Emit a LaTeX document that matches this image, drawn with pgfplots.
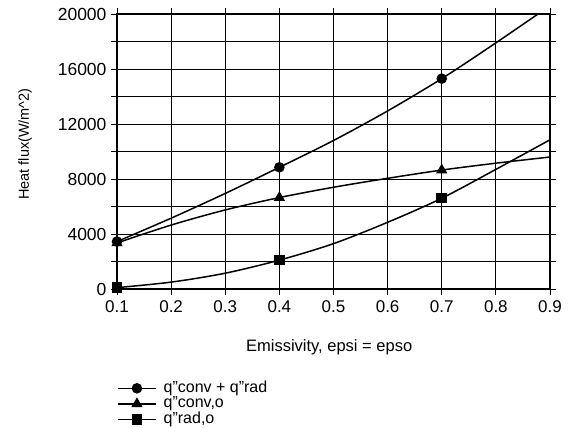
\documentclass[border=0pt]{standalone}
\usepackage{pgfplots}
\pgfplotsset{compat=1.18}
\usepackage{fontspec}
\setmainfont{Liberation Sans}
\begin{document}
\begin{tikzpicture}
\useasboundingbox (-117pt,-139pt) rectangle (451pt,289pt);
\begin{axis}[
  at={(0,0)}, anchor=south west,
  scale only axis, width=433pt, height=275pt,
  xmin=0.1, xmax=0.9, ymin=0, ymax=20000,
  xtick={0.1,0.2,...,0.9},
  ytick={0,4000,...,20000},
  minor ytick={2000,6000,...,18000},
  grid=both,
  major grid style={black, line width=0.9pt},
  minor grid style={black, line width=0.9pt},
  axis line style={black, line width=1.2pt},
  tick align=outside,
  major tick length=6pt,
  minor tick length=6pt,
  tick style={black, line width=0.9pt},
  scaled y ticks=false,
  /pgf/number format/assume math mode=true,
  /pgf/number format/set thousands separator={},
  xticklabel style={font=\fontsize{17}{19}\selectfont, /pgf/number format/fixed, /pgf/number format/fixed zerofill, /pgf/number format/precision=1, yshift=-2pt},
  yticklabel style={font=\fontsize{17.5}{19}\selectfont, xshift=-1pt},
  xlabel={Emissivity, epsi = epso},
  ylabel={Heat flux(W/m\textasciicircum 2)},
  every axis x label/.style={at={(rel axis cs:0.49,-0.211)}, anchor=center, font=\fontsize{16.5}{18}\selectfont},
  every axis y label/.style={at={(rel axis cs:-0.212,0.527)}, anchor=center, rotate=90, font=\fontsize{14.5}{16}\selectfont},
  legend style={at={(rel axis cs:0,-0.335)}, anchor=north west, draw=none, fill=none,
    font=\fontsize{16}{16}\selectfont, row sep=1.5pt, column sep=7pt, inner sep=0pt,
    nodes={inner sep=0pt, text height=11pt, text depth=3pt}},
  legend cell align=left,
  legend image code/.code={
    \draw[#1, mark repeat=2, mark phase=2] plot coordinates {(0pt,0pt) (19pt,0pt) (38pt,0pt)};
  },
]
\addplot[black, line width=1.5pt, smooth, mark=*, mark size=4.5pt, mark repeat=3, mark phase=1] coordinates {
(0.1,3450) (0.2,5150) (0.3,6950) (0.4,8850) (0.5,10800) (0.6,12950) (0.7,15300) (0.8,17900) (0.9,20600)};
\addlegendentry{q''conv + q''rad}
\addplot[black, line width=1.5pt, smooth, mark=triangle*, mark size=5pt, mark repeat=3, mark phase=1] coordinates {
(0.1,3350) (0.2,4650) (0.3,5750) (0.4,6650) (0.5,7400) (0.6,8050) (0.7,8650) (0.8,9150) (0.9,9600)};
\addlegendentry{q''conv,o}
\addplot[black, line width=1.5pt, smooth, mark=square*, mark size=4.5pt, mark repeat=3, mark phase=1] coordinates {
(0.1,100) (0.2,500) (0.3,1150) (0.4,2100) (0.5,3300) (0.6,4850) (0.7,6600) (0.8,8700) (0.9,10850)};
\addlegendentry{q''rad,o}
\end{axis}
\end{tikzpicture}
\end{document}
